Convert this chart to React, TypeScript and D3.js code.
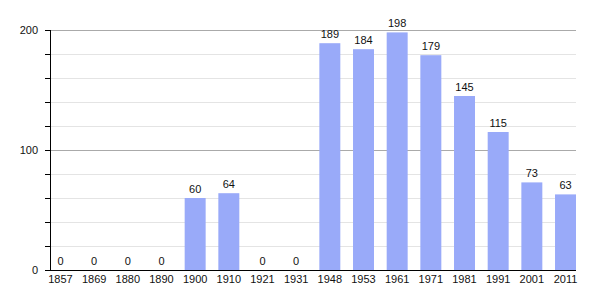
import React from "react";
import * as d3 from "d3";

const years = ["1857","1869","1880","1890","1900","1910","1921","1931","1948","1953","1961","1971","1981","1991","2001","2011"];
const population = [0,0,0,0,60,64,0,0,189,184,198,179,145,115,73,63];
const yTicks = [0,20,40,60,80,100,120,140,160,180,200];
const yLabels = [0,100,200];

export default function App() {
  const W = 605, H = 300;
  const left = 50, right = 576, top = 30, bottom = 270;
  const x = d3.scaleBand<string>().domain(years).range([left, right]).paddingInner(0.377).paddingOuter(0);
  const y = d3.scaleLinear().domain([0, 200]).range([bottom, top]);
  const font = "'Liberation Sans', Arial, sans-serif";
  return (
    <svg width={W} height={H} style={{ position: "absolute", left: 0, top: 0, background: "#fff" }} fontFamily={font}>
      {yTicks.map(t => (
        <line key={"g" + t} x1={left} x2={right} y1={y(t)} y2={y(t)}
          stroke={t % 100 === 0 ? "#aaaaaa" : "#e4e4e4"} strokeWidth={1} shapeRendering="crispEdges" />
      ))}
      {years.map((yr, i) => (
        <rect key={yr} x={x(yr)} width={x.bandwidth()} y={y(population[i])} height={bottom - y(population[i])} fill="#99aaf9" />
      ))}
      {years.map((yr, i) => (
        <text key={"v" + yr} x={(x(yr) as number) + x.bandwidth() / 2} y={y(population[i]) - 5}
          textAnchor="middle" fontSize={11} fill="#111">{population[i]}</text>
      ))}
      {yTicks.map(t => (
        <line key={"t" + t} x1={left - 5} x2={left} y1={y(t)} y2={y(t)} stroke="#000" shapeRendering="crispEdges" />
      ))}
      {yLabels.map(t => (
        <text key={"l" + t} x={38} y={y(t) + 4} textAnchor="end" fontSize={11} fill="#111">{t}</text>
      ))}
      <line x1={left} x2={left} y1={top} y2={bottom} stroke="#000" shapeRendering="crispEdges" />
      <line x1={left} x2={right} y1={bottom} y2={bottom} stroke="#000" shapeRendering="crispEdges" />
      {years.map(yr => (
        <text key={"x" + yr} x={(x(yr) as number) + x.bandwidth() / 2} y={283}
          textAnchor="middle" fontSize={11} fill="#111">{yr}</text>
      ))}
    </svg>
  );
}
